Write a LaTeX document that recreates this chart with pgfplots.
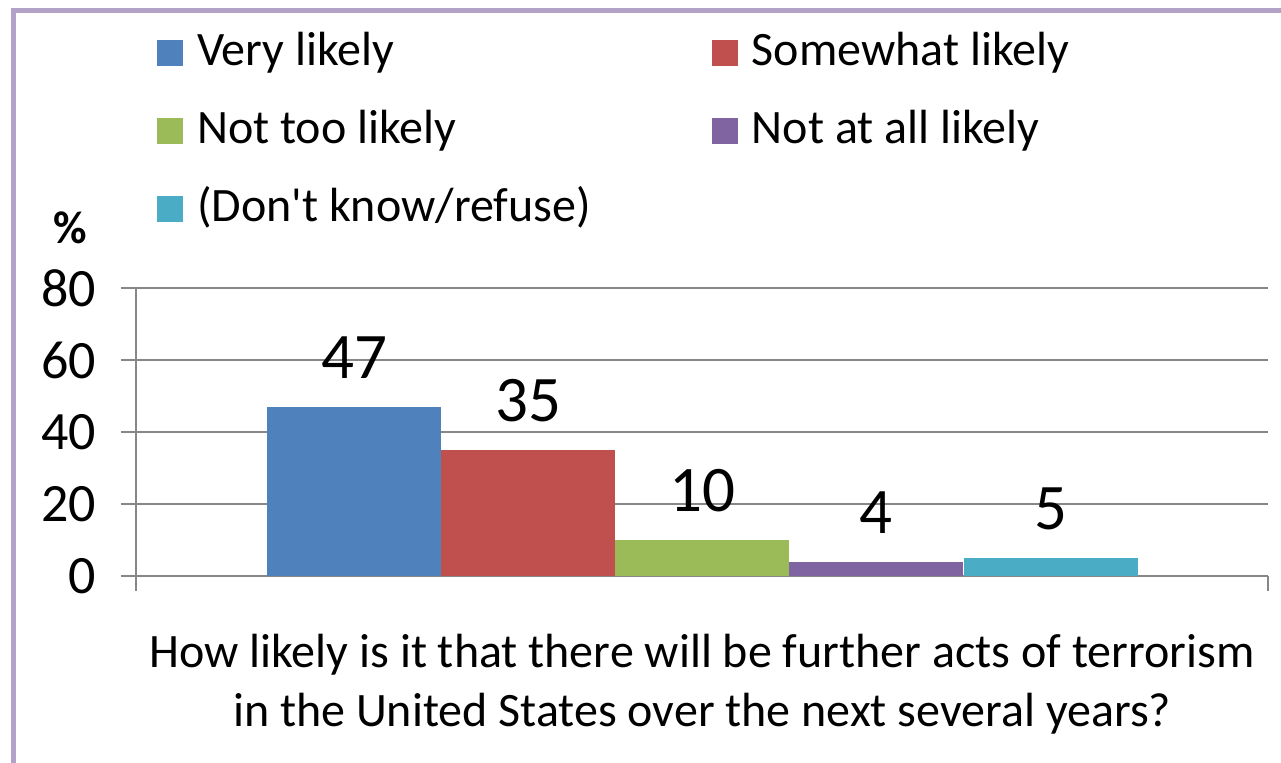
\documentclass[border=0pt]{standalone}
\usepackage{fontspec}
\setmainfont{Carlito}
\usepackage{pgfplots}
\pgfplotsset{compat=1.18}
\definecolor{cA}{HTML}{4F81BD}
\definecolor{cB}{HTML}{C0504D}
\definecolor{cC}{HTML}{9BBB59}
\definecolor{cD}{HTML}{8064A2}
\definecolor{cE}{HTML}{4BACC6}
\definecolor{gridgray}{HTML}{878787}
\definecolor{frame}{HTML}{B3A2C7}
\pgfplotsset{sw/.style={legend image code/.code={\fill[##1] (0pt,-6.5pt) rectangle (13pt,6.5pt);}}}
\begin{document}
\begin{tikzpicture}
\path[use as bounding box] (0,0) rectangle (640.5pt,381.5pt);
\clip (0,0) rectangle (640.5pt,381.5pt);
\draw[frame, line width=2.5pt] (6.75pt,-10pt) -- (6.75pt,376pt) -- (700pt,376pt);
\begin{axis}[
  at={(68pt,93.5pt)}, anchor=south west,
  scale only axis, width=566pt, height=144pt,
  xmin=0, xmax=1132, ymin=0, ymax=80,
  axis x line*=bottom, axis y line*=left,
  axis line style={-, gridgray, line width=1pt},
  ytick={0,20,40,60,80},
  xtick={0,1132}, xticklabels={},
  ymajorgrids, grid style={gridgray, line width=1pt},
  tick align=outside, major tick length=7.5pt,
  tick style={gridgray, line width=1pt},
  /pgf/number format/assume math mode=true,
  yticklabel style={font=\fontsize{27}{30}\selectfont, xshift=-9pt},
  ybar, bar width=174, bar shift=0pt,
  nodes near coords,
  every node near coord/.append style={font=\fontsize{32.5}{36}\selectfont, inner sep=0pt, yshift=14pt, text depth=0pt, black, xshift=0pt},
  legend columns=2,
  legend cell align=left,
  legend style={draw=none, fill=none, at={(0.01855,1.892)}, anchor=north west,
    font=\fontsize{24}{28}\selectfont, inner sep=0pt, outer sep=0pt,
    row sep=17pt,
    nodes={inner sep=0pt, text height=17pt, text depth=5pt},
    /tikz/every odd column/.append style={column sep=7pt},
    /tikz/every even column/.append style={column sep=60.5pt}},
]
\addplot[draw=none, fill=cA, sw] coordinates {(218,47)};
\addplot[draw=none, fill=cB, sw] coordinates {(392,35)};
\addplot[draw=none, fill=cC, sw] coordinates {(566,10)};
\addplot[draw=none, fill=cD, sw] coordinates {(740,4)};
\addplot[draw=none, fill=cE, sw] coordinates {(914.5,5)};
\legend{Very likely, Somewhat likely, Not too likely, Not at all likely, (Don\textquotesingle t know/refuse)}
\end{axis}
\node[font=\bfseries\fontsize{23}{27}\selectfont, anchor=base, inner sep=0pt] at (35pt,259.5pt) {\%};
\node[font=\fontsize{24}{28}\selectfont, anchor=base, inner sep=0pt] at (351pt,47.5pt) {How likely is it that there will be further acts of terrorism};
\node[font=\fontsize{24}{28}\selectfont, anchor=base, inner sep=0pt] at (351pt,18pt) {in the United States over the next several years?};
\end{tikzpicture}
\end{document}
